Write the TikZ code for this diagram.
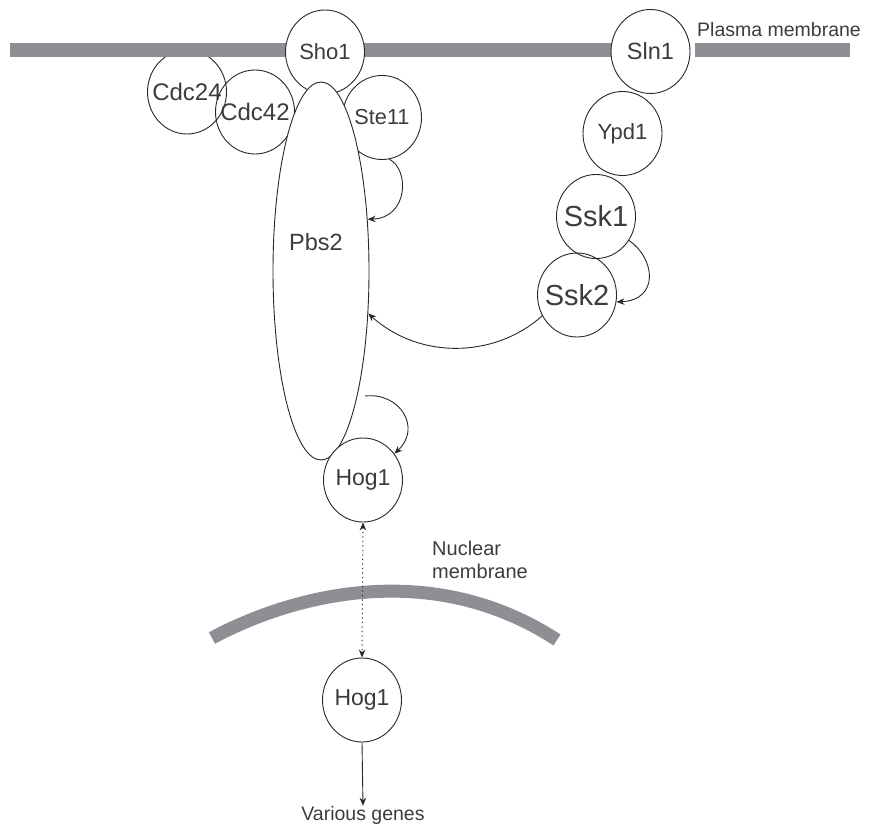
\documentclass[tikz,border=0pt]{standalone}
\usepackage{fontspec}
\setmainfont{Liberation Sans}
\usetikzlibrary{arrows.meta,shapes.geometric}
\definecolor{membranegray}{RGB}{142,143,148}
\definecolor{labelgray}{RGB}{60,60,60}
\definecolor{linegray}{RGB}{40,40,40}
\tikzset{
  protein/.style={ellipse,draw=linegray,line width=0.9pt,minimum width=79pt,minimum height=84pt,inner sep=0pt,text=labelgray,font=\fontsize{22}{26}\selectfont},
  whitefill/.style={fill=white},
  membrane/.style={draw=membranegray,line width=14pt,line cap=butt},
  signal/.style={draw=linegray,line width=0.9pt,-{Stealth[length=8pt,width=6.5pt]}},
  shuttle/.style={draw=linegray,line width=1pt,dash pattern=on 1.2pt off 3.3pt,{Stealth[length=8pt,width=6.5pt]}-{Stealth[length=8pt,width=6.5pt]}},
  plaintext/.style={text=labelgray,inner sep=0pt}
}
\begin{document}
\begin{tikzpicture}[x=1pt,y=-1pt]
\useasboundingbox (0,0) rectangle (869,829);
% proteins under the membrane
\node[protein,font=\fontsize{24}{28}\selectfont] (cdc24) at (187,92) {\makebox[0pt]{Cdc24}};
\node[protein,font=\fontsize{24}{28}\selectfont] (cdc42) at (255,112) {\makebox[0pt]{Cdc42}};
% plasma membrane
\draw[membrane] (10,50.5) -- (614,50.5);
\draw[membrane] (695,50.5) -- (850,50.5);
\node[plaintext,anchor=base west,font=\fontsize{19.5}{23}\selectfont] (pm) at (697,37) {Plasma membrane};
% proteins
\node[protein,whitefill] (sho1) at (325,52) {\makebox[0pt]{Sho1}};
\node[protein,font=\fontsize{21.7}{26}\selectfont] (ste11) at (382,117.5) {\makebox[0pt]{Ste11}};
\node[protein,whitefill,font=\fontsize{23.5}{27}\selectfont] (sln1) at (650.5,51.5) {\makebox[0pt]{Sln1}};
\node[protein] (ypd1) at (622.5,133.5) {\makebox[0pt]{Ypd1}};
\node[protein,font=\fontsize{29}{33}\selectfont] (ssk1) at (596,216.5) {\makebox[0pt]{Ssk1}};
\node[protein,font=\fontsize{29}{33}\selectfont] (ssk2) at (577,295) {\makebox[0pt]{Ssk2}};
% Pbs2 scaffold
\node[ellipse,draw=linegray,line width=0.9pt,fill=white,minimum width=96pt,minimum height=378pt,inner sep=0pt] (pbs2) at (321,271) {};
\node[plaintext,font=\fontsize{23.5}{27}\selectfont] (pbs2t) at (316,242) {Pbs2};
% Hog1 (cytoplasm and nucleus)
\node[protein,whitefill,font=\fontsize{23}{27}\selectfont] (hog1a) at (363,480) {\makebox[0pt]{Hog1}};
\node[protein,whitefill,font=\fontsize{23}{27}\selectfont] (hog1b) at (362,700) {\makebox[0pt]{Hog1}};
% nuclear membrane
\draw[membrane,line width=13pt] (212,638) .. controls (290,596) and (430,557) .. (557,640);
\node[plaintext,anchor=north west,align=left,font=\fontsize{20}{23}\selectfont] (nm) at (432,540.5) {Nuclear\\membrane};
% output
\node[plaintext,font=\fontsize{19.5}{23}\selectfont] (genes) at (363,815) {Various genes};
% signalling arrows
\draw[signal] (ste11.-80) .. controls (410,170) and (408,218) .. (pbs2.48);
\draw[signal] (ssk1.-36) .. controls (655,258) and (660,300) .. (ssk2.-10);
\draw[signal] (ssk2.211) .. controls (495,358) and (420,360) .. (pbs2.-42);
\coordinate (pbsout) at (365,396);
\draw[signal] (pbsout) .. controls (400,392) and (422,428) .. (hog1a.40);
\draw[shuttle] (hog1a.south) -- (hog1b.north);
\draw[signal] (hog1b.south) -- (genes.north);
\end{tikzpicture}
\end{document}
